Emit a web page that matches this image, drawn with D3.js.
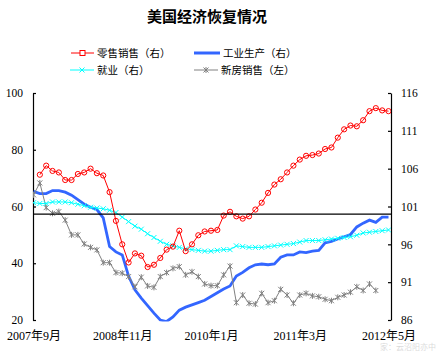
<!DOCTYPE html>
<html>
<head>
<meta charset="utf-8">
<script src="https://cdn.jsdelivr.net/npm/d3@7"></script>
<style>
  body { margin: 0; background: #fff; }
  svg { display: block; }
</style>
</head>
<body>
<svg id="chart"></svg>
<script>
// monthly, 2007-09 .. 2012-05 (57 months)
const xTickIdx = [0, 14, 28, 42, 56];
const xTickLabels = ['2007年9月', '2008年11月', '2010年1月', '2011年3月', '2012年5月'];
const leftTicks = [20, 40, 60, 80, 100];
const rightTicks = [86, 91, 96, 101, 106, 111, 116];

// 零售销售 (right axis), no value for the first month
const retail = [null, 105.2, 106.4, 105.7, 105.5, 104.5, 104.5, 105.3, 105.5, 106.0, 105.4, 105.1,
  102.9, 99.1, 96.0, 93.6, 94.8, 94.5, 93.0, 93.3, 94.2, 95.3, 95.7, 97.8, 95.1, 96.0, 97.2, 97.7,
  97.8, 97.9, 99.8, 100.3, 99.7, 99.4, 99.7, 100.6, 101.5, 102.8, 103.9, 104.6, 105.5, 106.4, 107.2,
  107.7, 107.8, 108.0, 108.6, 108.8, 110.1, 111.2, 111.7, 111.6, 112.4, 113.6, 114.0, 113.7, 113.6];

// 工业生产 (right axis)
const industry = [103.0, 102.7, 102.7, 103.1, 103.1, 102.9, 102.5, 101.9, 101.3, 100.9, 100.6, 99.5,
  95.7, 95.0, 94.6, 91.8, 90.0, 88.9, 87.9, 86.9, 86.0, 85.8, 86.4, 87.3, 87.7, 88.0, 88.3, 88.6,
  89.1, 89.6, 90.1, 90.5, 91.8, 92.3, 92.9, 93.3, 93.4, 93.3, 93.4, 94.3, 94.6, 94.6, 95.0, 94.9,
  95.1, 95.2, 96.2, 96.4, 96.7, 97.0, 97.3, 98.3, 98.8, 99.2, 98.9, 99.6, 99.6];

// 就业 (right axis)
const employment = [101.5, 101.4, 101.4, 101.6, 101.6, 101.6, 101.5, 101.3, 101.1, 100.9, 100.8, 100.7,
  100.5, 100.2, 99.6, 99.0, 98.4, 98.0, 97.4, 96.9, 96.4, 96.0, 95.8, 95.6, 95.4, 95.3, 95.2, 95.1,
  95.1, 95.2, 95.3, 95.3, 95.8, 95.7, 95.6, 95.6, 95.6, 95.7, 95.8, 95.9, 96.0, 96.1, 96.3, 96.5,
  96.5, 96.5, 96.6, 96.7, 96.8, 96.9, 97.0, 97.2, 97.5, 97.6, 97.7, 97.8, 97.9];

// 新房销售 (left axis), ends 2012-03
const housing = [64.1, 68.3, 59.6, 57.6, 58.2, 55.2, 50.0, 50.0, 46.8, 45.6, 44.7, 40.2, 40.2, 36.7,
  36.5, 35.3, 31.7, 35.1, 32.0, 31.5, 35.3, 36.7, 38.2, 38.8, 35.9, 37.0, 35.3, 32.7, 32.1, 32.1,
  35.9, 39.0, 26.1, 28.8, 25.9, 25.6, 29.4, 26.1, 26.8, 30.8, 28.8, 25.9, 28.8, 29.4, 28.5, 28.2,
  27.3, 26.8, 28.0, 28.8, 29.8, 31.7, 30.4, 32.7, 30.4];

const refLine = 100; // right axis

const config = {
  width: 438, height: 351,
  left: 33, right: 391, top: 93, bottom: 320,
  serif: '"Liberation Serif", "Noto Sans CJK SC", serif',
  cjk: '"Noto Sans CJK SC", sans-serif'
};

const svg = d3.select('#chart')
  .attr('width', config.width)
  .attr('height', config.height);

const x = d3.scaleLinear().domain([0, 56]).range([config.left + 0.5, config.right - 2.5]);
const yL = d3.scaleLinear().domain([20, 100]).range([config.bottom, config.top]);
const yR = d3.scaleLinear().domain([86, 116]).range([config.bottom, config.top]);

// title
svg.append('text')
  .attr('x', 207).attr('y', 22)
  .attr('text-anchor', 'middle')
  .style('font-family', config.cjk)
  .style('font-size', '15px')
  .style('font-weight', 'bold')
  .text('美国经济恢复情况');

// marker shapes
function crossPath(s) {
  return `M${-s},${-s}L${s},${s}M${-s},${s}L${s},${-s}`;
}
function starPath(s) {
  return crossPath(s) + `M0,${-s - 0.5}L0,${s + 0.5}`;
}

// axes
const leftAxis = d3.axisLeft(yL).tickValues(leftTicks).tickSizeInner(-3).tickSizeOuter(0).tickPadding(10);
const rightAxis = d3.axisRight(yR).tickValues(rightTicks).tickSizeInner(-3).tickSizeOuter(0).tickPadding(10);

const gl = svg.append('g').attr('transform', `translate(${config.left},0)`).call(leftAxis);
const gr = svg.append('g').attr('transform', `translate(${config.right},0)`).call(rightAxis);
[gl, gr].forEach(g => {
  g.selectAll('path, line').attr('stroke', '#000').attr('stroke-width', 1.2);
  g.selectAll('text')
    .style('font-family', config.serif)
    .style('font-size', '11.5px')
    .attr('fill', '#000');
});

// x labels, no axis line
const gx = svg.append('g')
  .attr('transform', `translate(0,${config.bottom})`)
  .call(d3.axisBottom(x).tickValues(xTickIdx).tickFormat((d, i) => xTickLabels[i]).tickSize(0).tickPadding(11));
gx.select('.domain').remove();
gx.selectAll('text')
  .style('font-family', config.serif)
  .style('font-size', '12px')
  .attr('fill', '#000');

// clip plot
svg.append('clipPath').attr('id', 'plotClip')
  .append('rect')
  .attr('x', config.left).attr('y', config.top)
  .attr('width', config.right - config.left).attr('height', config.bottom - config.top + 1.5);

const plot = svg.append('g').attr('clip-path', 'url(#plotClip)');

function lineFor(scale) {
  return d3.line()
    .defined(d => d != null)
    .x((d, i) => x(i))
    .y(d => scale(d));
}

// industry
plot.append('path')
  .datum(industry)
  .attr('d', lineFor(yR))
  .attr('fill', 'none')
  .attr('stroke', '#3366ff')
  .attr('stroke-width', 2.8);

// housing
plot.append('path')
  .datum(housing)
  .attr('d', lineFor(yL))
  .attr('fill', 'none')
  .attr('stroke', '#808080')
  .attr('stroke-width', 1);
plot.selectAll('.hmark')
  .data(housing)
  .join('path')
  .attr('class', 'hmark')
  .attr('transform', (d, i) => `translate(${x(i)},${yL(d)})`)
  .attr('d', starPath(2.5))
  .attr('stroke', '#808080')
  .attr('fill', 'none');

// employment
plot.append('path')
  .datum(employment)
  .attr('d', lineFor(yR))
  .attr('fill', 'none')
  .attr('stroke', '#00ffff')
  .attr('stroke-width', 1);
plot.selectAll('.emark')
  .data(employment)
  .join('path')
  .attr('class', 'emark')
  .attr('transform', (d, i) => `translate(${x(i)},${yR(d)})`)
  .attr('d', crossPath(2.5))
  .attr('stroke', '#00ffff')
  .attr('fill', 'none');

// reference line at 100 (right)
svg.append('line')
  .attr('x1', config.left).attr('x2', config.right)
  .attr('y1', yR(refLine)).attr('y2', yR(refLine))
  .attr('stroke', '#000')
  .attr('stroke-width', 1.2);

// retail
plot.append('path')
  .datum(retail)
  .attr('d', lineFor(yR))
  .attr('fill', 'none')
  .attr('stroke', '#ff0000')
  .attr('stroke-width', 1);
plot.selectAll('.rmark')
  .data(retail.map((v, i) => ({ v, i })).filter(d => d.v != null))
  .join('circle')
  .attr('class', 'rmark')
  .attr('cx', d => x(d.i))
  .attr('cy', d => yR(d.v))
  .attr('r', 2.6)
  .attr('fill', 'none')
  .attr('stroke', '#ff0000');

// legend
const legendItems = [
  { label: '零售销售（右）', color: '#ff0000', x: 71, y: 53, w: 23, width: 1, mark: 'circle' },
  { label: '工业生产（右）', color: '#3366ff', x: 194, y: 53, w: 26, width: 3, mark: null },
  { label: '就业（右）', color: '#00ffff', x: 70, y: 70, w: 24, width: 1, mark: 'cross' },
  { label: '新房销售（左）', color: '#808080', x: 194, y: 70, w: 24, width: 1, mark: 'star' }
];
const legend = svg.append('g');
legendItems.forEach(it => {
  const g = legend.append('g');
  g.append('line')
    .attr('x1', it.x).attr('x2', it.x + it.w)
    .attr('y1', it.y).attr('y2', it.y)
    .attr('stroke', it.color).attr('stroke-width', it.width);
  const cx = it.x + it.w / 2;
  if (it.mark === 'circle') {
    g.append('rect').attr('x', cx - 2.5).attr('y', it.y - 2.5).attr('width', 5).attr('height', 5)
      .attr('fill', '#fff').attr('stroke', it.color);
  } else if (it.mark === 'cross') {
    g.append('path').attr('transform', `translate(${cx},${it.y})`).attr('d', crossPath(2.5))
      .attr('stroke', it.color).attr('fill', 'none');
  } else if (it.mark === 'star') {
    g.append('path').attr('transform', `translate(${cx},${it.y})`).attr('d', starPath(2.5))
      .attr('stroke', it.color).attr('fill', 'none');
  }
  g.append('text')
    .attr('x', it.x + it.w + 3).attr('y', it.y + 4)
    .style('font-family', config.cjk)
    .style('font-size', '10.5px')
    .attr('fill', '#000')
    .text(it.label);
});

// faint watermark, kept below the x labels
svg.append('text')
  .attr('x', 436).attr('y', 350)
  .attr('text-anchor', 'end')
  .style('font-family', config.cjk)
  .style('font-size', '8px')
  .attr('fill', '#000')
  .attr('opacity', 0.15)
  .text('家：云沼阳亦中');
</script>
</body>
</html>
